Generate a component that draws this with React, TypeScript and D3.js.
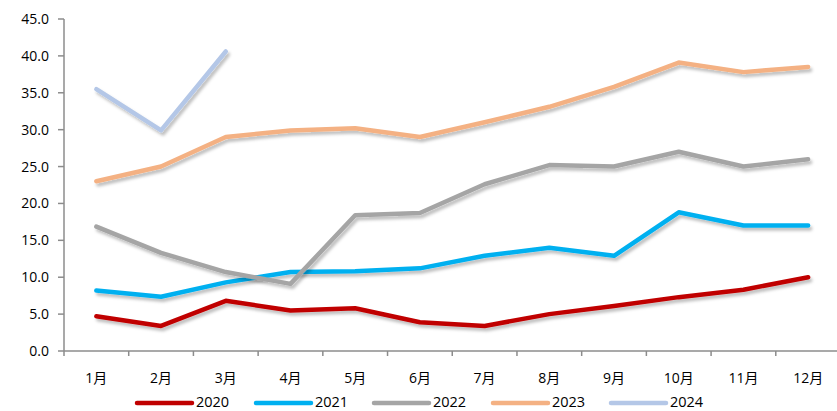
import React from "react";
import * as d3 from "d3";

const months = ["1月", "2月", "3月", "4月", "5月", "6月", "7月", "8月", "9月", "10月", "11月", "12月"];
const yTicks = [0, 5, 10, 15, 20, 25, 30, 35, 40, 45];
const years = ["2020", "2021", "2022", "2023", "2024"];
const colors = ["#C00000", "#00B0F0", "#A5A5A5", "#F4B183", "#B4C7E7"];

const s2020 = [4.7, 3.4, 6.8, 5.5, 5.8, 3.9, 3.4, 5.0, 6.1, 7.3, 8.3, 10.0];
const s2021 = [8.2, 7.35, 9.3, 10.7, 10.8, 11.2, 12.9, 14.0, 12.9, 18.8, 17.0, 17.0];
const s2022 = [16.85, 13.3, 10.7, 9.1, 18.4, 18.7, 22.6, 25.2, 25.0, 27.0, 25.0, 26.0];
const s2023 = [23.0, 25.0, 29.0, 29.9, 30.2, 29.0, 31.0, 33.1, 35.8, 39.1, 37.8, 38.5];
const s2024 = [35.5, 29.9, 40.6];

const seriesValues = [s2020, s2021, s2022, s2023, s2024];

const W = 837;
const H = 411;
const left = 64;
const right = 840.5;
const top = 19;
const bottom = 351;
const font = "'Open Sans', 'Noto Sans CJK SC', sans-serif";
const axisColor = "#8C8C8C";

export default function App() {
  const x = d3.scaleBand<string>().domain(months).range([left, right]);
  const y = d3.scaleLinear().domain([0, 45]).range([bottom, top]);
  const cx = (m: string) => (x(m) as number) + x.bandwidth() / 2;

  const line = d3
    .line<number>()
    .x((_, i) => cx(months[i]))
    .y((d) => y(d));

  const legendX = [137, 256, 374, 493, 611];

  return (
    <svg
      width={W}
      height={H}
      style={{ position: "absolute", left: 0, top: 0, display: "block", background: "#fff" }}
    >
      <defs>
        <filter id="shadow" x="-10%" y="-10%" width="130%" height="140%">
          <feDropShadow dx="2" dy="3" stdDeviation="1.8" floodColor="#000" floodOpacity="0.25" />
        </filter>
      </defs>

      {/* Y axis */}
      <line x1={left} x2={left} y1={top} y2={bottom} stroke={axisColor} strokeWidth={1.5} />
      {yTicks.map((t) => (
        <g key={t}>
          <line x1={left - 6} x2={left} y1={y(t)} y2={y(t)} stroke={axisColor} strokeWidth={1.5} />
          <text
            x={49}
            y={y(t)}
            dy="0.36em"
            textAnchor="end"
            fontFamily={font}
            fontSize={14}
            fill="#000"
          >
            {t.toFixed(1)}
          </text>
        </g>
      ))}

      {/* X axis */}
      <line x1={left} x2={W} y1={bottom} y2={bottom} stroke={axisColor} strokeWidth={1.5} />
      {months.map((m, i) => (
        <line
          key={"t" + i}
          x1={x(m) as number}
          x2={x(m) as number}
          y1={bottom}
          y2={bottom + 5}
          stroke={axisColor}
          strokeWidth={1.5}
        />
      ))}
      {months.map((m) => (
        <text
          key={m}
          x={cx(m)}
          y={383}
          textAnchor="middle"
          fontFamily={font}
          fontSize={14}
          fill="#000"
        >
          {m}
        </text>
      ))}

      {/* Lines */}
      {seriesValues.map((vals, i) => (
        <path
          key={years[i]}
          d={line(vals) || ""}
          fill="none"
          stroke={colors[i]}
          strokeWidth={4.5}
          strokeLinejoin="round"
          strokeLinecap="round"
          filter="url(#shadow)"
        />
      ))}

      {/* Legend */}
      {years.map((yr, i) => (
        <g key={"lg" + yr}>
          <line
            x1={legendX[i]}
            x2={legendX[i] + 55}
            y1={403}
            y2={403}
            stroke={colors[i]}
            strokeWidth={4.5}
            strokeLinecap="round"
          />
          <text x={legendX[i] + 59} y={407} fontFamily={font} fontSize={14.5} fill="#000">
            {yr}
          </text>
        </g>
      ))}
    </svg>
  );
}
